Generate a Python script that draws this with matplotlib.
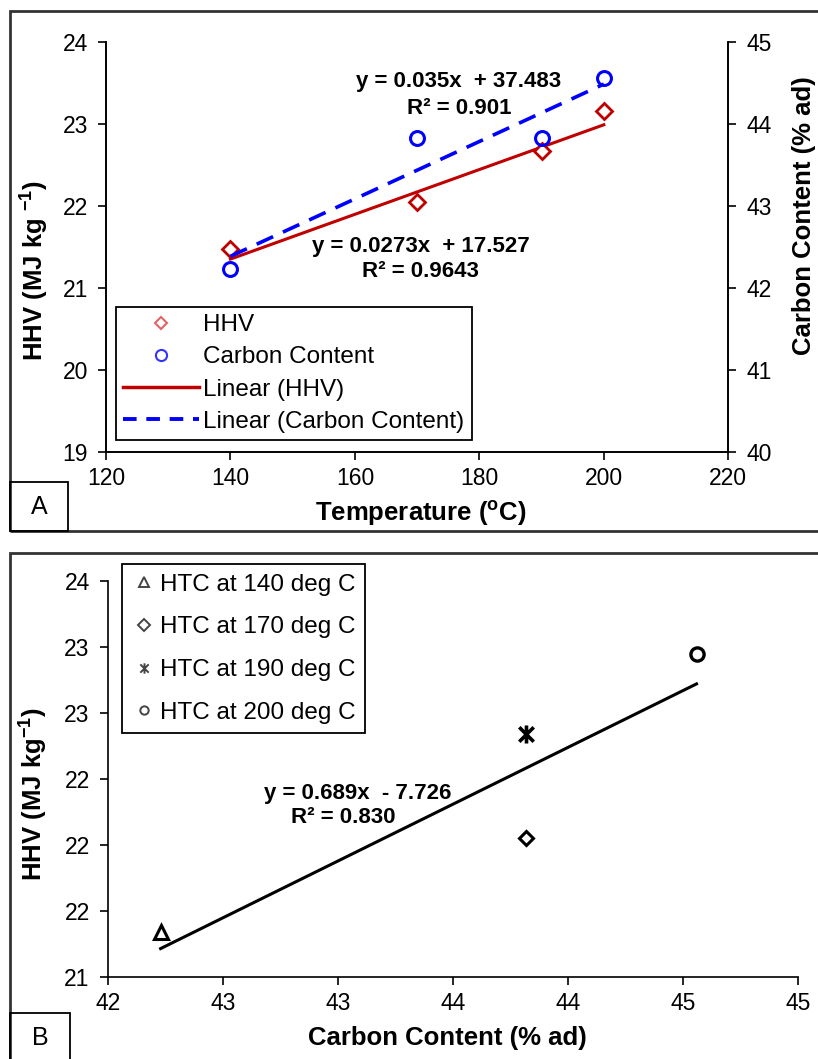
import matplotlib.pyplot as plt
import numpy as np
from matplotlib.patches import Rectangle
from matplotlib.path import Path
from matplotlib.lines import Line2D
from matplotlib.ticker import FuncFormatter

plt.rcParams['font.family'] = ['Liberation Sans', 'DejaVu Sans']
plt.rcParams['mathtext.fontset'] = 'custom'
plt.rcParams['mathtext.rm'] = 'Liberation Sans:bold'
plt.rcParams['mathtext.it'] = 'Liberation Sans:bold'
plt.rcParams['mathtext.bf'] = 'Liberation Sans:bold'
plt.rcParams['mathtext.default'] = 'regular'

# HTC runs
temperature = [140, 170, 190, 200]
hhv = [21.47, 22.04, 22.67, 23.16]
carbon = [42.23, 43.82, 43.82, 44.56]
htc_labels = ['HTC at 140 deg C', 'HTC at 170 deg C', 'HTC at 190 deg C', 'HTC at 200 deg C']

# linear trendlines: slope, intercept, R² text
hhv_fit = [0.0273, 17.527]
hhv_r2 = '0.9643'
carbon_fit = [0.035, 37.483]
carbon_r2 = '0.901'
hhv_vs_carbon_fit = [0.689, -7.726]
hhv_vs_carbon_r2 = '0.830'

W, H = 818, 1059
RED = '#C00000'
BLUE = '#0000FF'
TICK_FS = 16.5
LABEL_FS = 18.5
LEG_FS = 17.5
EQ_FS = 16

fig = plt.figure(figsize=(W / 100, H / 100), dpi=100)


def px_box(x0, y0, x1, y1):
    return [x0 / W, 1 - y1 / H, (x1 - x0) / W, (y1 - y0) / H]


def eq_text(fit):
    m, b = fit
    sign = '+' if b >= 0 else '-'
    return f'y = {m:g}x  {sign} {abs(b):g}'


def style_ticks(ax, axis='both'):
    ax.tick_params(axis=axis, direction='out', length=6, width=1.2,
                   labelsize=TICK_FS, colors='black')


# panel frames and letter boxes
for (x0, y0, x1, y1) in [(10, 11, 840, 531), (10, 553, 840, 1080)]:
    fig.add_artist(Rectangle((x0 / W, 1 - y1 / H), (x1 - x0) / W, (y1 - y0) / H,
                             transform=fig.transFigure, fill=False,
                             edgecolor='#333333', linewidth=2.0))
for (x0, y0, x1, y1), letter in [((10, 482, 68, 531), 'A'), ((10, 1013, 70, 1080), 'B')]:
    fig.add_artist(Rectangle((x0 / W, 1 - y1 / H), (x1 - x0) / W, (y1 - y0) / H,
                             transform=fig.transFigure, fill=False,
                             edgecolor='black', linewidth=1.3))
fig.text(39 / W, 1 - 507 / H, 'A', fontsize=18, ha='center', va='center')
fig.text(40 / W, 1 - 1038 / H, 'B', fontsize=18, ha='center', va='center')

# ---- A: HHV and carbon content vs temperature ----
ax1 = fig.add_axes(px_box(106, 41.7, 728.3, 451.7))
ax1r = ax1.twinx()

t_line = np.array([min(temperature), max(temperature)])
ax1.plot(t_line, hhv_fit[0] * t_line + hhv_fit[1], color=RED, lw=2.2, zorder=2)
ax1.plot(temperature, hhv, ls='none', marker='D', ms=8.5, mfc='white',
         mec=RED, mew=2.0, zorder=3)
ax1r.plot(t_line, carbon_fit[0] * t_line + carbon_fit[1], color=BLUE, lw=2.6,
          dashes=(5, 3), zorder=2)
ax1r.plot(temperature, carbon, ls='none', marker='o', ms=10, mfc='none',
          mec=BLUE, mew=2.2, zorder=3)

ax1.set_xlim(120, 220)
ax1.set_xticks(np.arange(120, 221, 20))
ax1.set_ylim(19, 24)
ax1.set_yticks(np.arange(19, 25, 1))
ax1r.set_ylim(40, 45)
ax1r.set_yticks(np.arange(40, 46, 1))
for ax in (ax1, ax1r):
    ax.spines['top'].set_visible(False)
    for s in ax.spines.values():
        s.set_linewidth(1.2)
style_ticks(ax1)
style_ticks(ax1r)
ax1.tick_params(axis='y', pad=7)
ax1.tick_params(axis='x', pad=5)
ax1r.tick_params(axis='y', pad=7)

ax1.set_xlabel('Temperature ($^{o}$C)', fontsize=LABEL_FS, fontweight='bold')
ax1.xaxis.set_label_coords(0.506, -0.115)
ax1.set_ylabel('HHV (MJ kg $^{-1}$)', fontsize=LABEL_FS, fontweight='bold')
ax1.yaxis.set_label_coords(-0.089, 0.443)
ax1r.set_ylabel('Carbon Content (% ad)', fontsize=LABEL_FS, fontweight='bold')
ax1r.yaxis.set_label_coords(1.103, 0.575)

ax1.text(0.567, 0.902, eq_text(carbon_fit), transform=ax1.transAxes,
         fontsize=EQ_FS, fontweight='bold', ha='center', va='center')
ax1.text(0.567, 0.837, f'R² = {carbon_r2}', transform=ax1.transAxes,
         fontsize=EQ_FS, fontweight='bold', ha='center', va='center')
ax1.text(0.506, 0.500, eq_text(hhv_fit), transform=ax1.transAxes,
         fontsize=EQ_FS, fontweight='bold', ha='center', va='center')
ax1.text(0.506, 0.439, f'R² = {hhv_r2}', transform=ax1.transAxes,
         fontsize=EQ_FS, fontweight='bold', ha='center', va='center')

leg_a = [
    Line2D([], [], ls='none', marker='D', ms=6.5, mfc='white', mec='#E06666', mew=1.5),
    Line2D([], [], ls='none', marker='o', ms=8, mfc='white', mec='#3333FF', mew=1.5),
    Line2D([], [], color=RED, lw=2.5),
    Line2D([], [], color=BLUE, lw=2.8, dashes=(3.5, 2.5)),
]
lg = ax1r.legend(leg_a, ['HHV', 'Carbon Content', 'Linear (HHV)', 'Linear (Carbon Content)'],
                 loc='upper left', bbox_to_anchor=(0.016, 0.353), borderaxespad=0,
                 fontsize=LEG_FS, frameon=True, fancybox=False, edgecolor='black',
                 framealpha=1, handlelength=3.1, handletextpad=0.2,
                 labelspacing=0.42, borderpad=0.3)
lg.get_frame().set_linewidth(1.3)

# ---- B: HHV vs carbon content ----
ax2 = fig.add_axes(px_box(107.7, 581, 797.7, 976.7))

c_line = np.array([min(carbon), max(carbon)])
ax2.plot(c_line, hhv_vs_carbon_fit[0] * c_line + hhv_vs_carbon_fit[1],
         color='black', lw=2.2, zorder=2)

asterisk = Path([(0, -1), (0, 1), (-0.8, -0.8), (0.8, 0.8), (-0.8, 0.8), (0.8, -0.8)],
                [Path.MOVETO, Path.LINETO, Path.MOVETO, Path.LINETO, Path.MOVETO, Path.LINETO])
markers_b = ['^', 'D', asterisk, 'o']
sizes_b = [10, 7, 13, 9.5]
widths_b = [2.2, 2.2, 2.6, 2.4]
for xi, yi, mk, ms, mw in zip(carbon, hhv, markers_b, sizes_b, widths_b):
    ax2.plot([xi], [yi], ls='none', marker=mk, ms=ms, mfc='white', mec='black',
             mew=mw, zorder=3)

ax2.set_xlim(42, 45)
ax2.set_xticks(np.arange(42, 45.01, 0.5))
ax2.set_ylim(21.2, 23.6)
ax2.set_yticks(np.arange(21.2, 23.61, 0.4))
round_half_up = FuncFormatter(lambda v, pos: f'{int(np.floor(v + 0.5 + 1e-9))}')
ax2.xaxis.set_major_formatter(round_half_up)
ax2.yaxis.set_major_formatter(round_half_up)
ax2.spines['top'].set_visible(False)
ax2.spines['right'].set_visible(False)
for s in ax2.spines.values():
    s.set_linewidth(1.2)
style_ticks(ax2)
ax2.tick_params(axis='y', pad=7)
ax2.tick_params(axis='x', pad=5)

ax2.set_xlabel('Carbon Content (% ad)', fontsize=LABEL_FS, fontweight='bold')
ax2.xaxis.set_label_coords(0.493, -0.125)
ax2.set_ylabel('HHV (MJ kg$^{-1}$)', fontsize=LABEL_FS, fontweight='bold')
ax2.yaxis.set_label_coords(-0.083, 0.462)

ax2.text(0.362, 0.462, eq_text(hhv_vs_carbon_fit), transform=ax2.transAxes,
         fontsize=EQ_FS, fontweight='bold', ha='center', va='center')
ax2.text(0.342, 0.403, f'R² = {hhv_vs_carbon_r2}', transform=ax2.transAxes,
         fontsize=EQ_FS, fontweight='bold', ha='center', va='center')

leg_b = [Line2D([], [], ls='none', marker=mk, ms=ms * 0.75, mfc='white', mec='#444444',
                mew=1.4) for mk, ms in zip(markers_b, [9, 8, 10, 8])]
lg2 = ax2.legend(leg_b, htc_labels, loc='upper left', bbox_to_anchor=(0.0207, 1.043),
                 borderaxespad=0, fontsize=LEG_FS, frameon=True, fancybox=False,
                 edgecolor='black', framealpha=1, handlelength=1.0, handletextpad=0.15,
                 labelspacing=0.85, borderpad=0.4)
lg2.get_frame().set_linewidth(1.3)

fig.savefig('out.png', dpi=100)
